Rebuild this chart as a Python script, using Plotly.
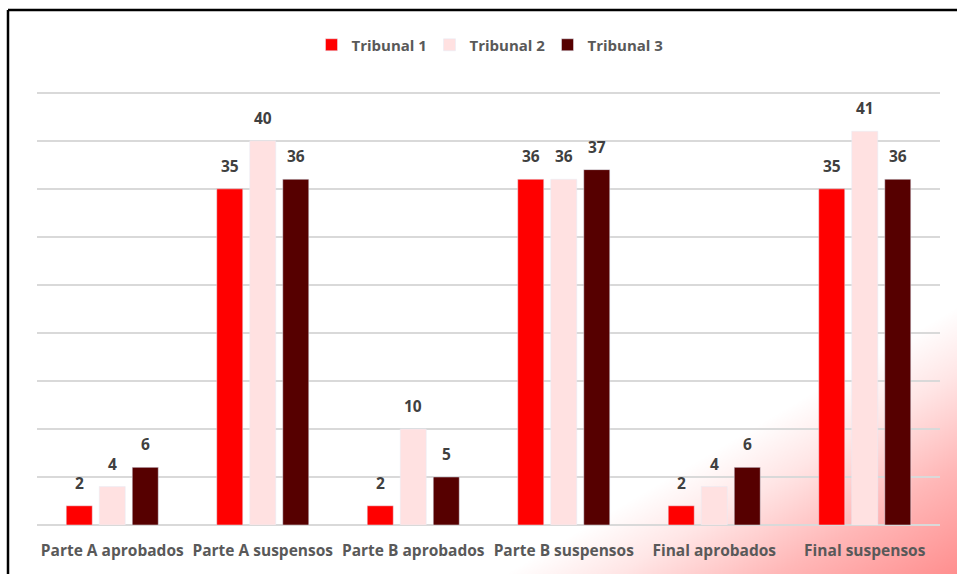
import plotly.graph_objects as go

categorias = ['Parte A aprobados', 'Parte A suspensos', 'Parte B aprobados',
              'Parte B suspensos', 'Final aprobados', 'Final suspensos']
tribunal_1 = [2, 35, 2, 36, 2, 35]
tribunal_2 = [4, 40, 10, 36, 4, 41]
tribunal_3 = [6, 36, 5, 37, 6, 36]

series = [('Tribunal 1', tribunal_1, '#FF0000'),
          ('Tribunal 2', tribunal_2, '#FFE1E1'),
          ('Tribunal 3', tribunal_3, '#560000')]

FONT = 'Open Sans'
fig = go.Figure()
for nombre, valores, color in series:
    fig.add_trace(go.Bar(x=categorias, y=valores, name=nombre, marker_color=color))

# data labels sit a bit higher than plotly's default "outside" text
for i, (nombre, valores, color) in enumerate(series):
    for cat, v in zip(categorias, valores):
        fig.add_annotation(x=cat, y=v, text=str(v), showarrow=False,
                           xshift=(i - 1) * 33, yshift=23, yanchor='middle',
                           font=dict(family=FONT, size=15.5, color='#404040', weight='bold'))

W, H = 957, 574
L, R, T, B = 37, 17, 88, 49
pw, ph = W - L - R, H - T - B

def px(x):
    return (x - L) / pw

def py(y):
    return (H - B - y) / ph

# corner gradient as an inline svg
svg = ("<svg xmlns='http://www.w3.org/2000/svg' width='957' height='574'>"
       "<defs><linearGradient id='g' gradientUnits='userSpaceOnUse' x1='840' y1='376' x2='957' y2='574'>"
       "<stop offset='0' stop-color='#FF0000' stop-opacity='0'/>"
       "<stop offset='0.25' stop-color='#FF0000' stop-opacity='0.1'/>"
       "<stop offset='0.6' stop-color='#FF0000' stop-opacity='0.28'/>"
       "<stop offset='1' stop-color='#FF0000' stop-opacity='0.44'/>"
       "</linearGradient></defs>"
       "<rect width='957' height='574' fill='url(#g)'/></svg>")
src = "data:image/svg+xml;charset=utf-8," + svg.replace('#', '%23').replace('<', '%3C').replace('>', '%3E')

fig.add_layout_image(dict(source=src, xref='paper', yref='paper', x=px(0), y=py(0),
                          sizex=W / pw, sizey=H / ph, xanchor='left', yanchor='top',
                          sizing='stretch', layer='below'))

fig.update_layout(
    width=W, height=H,
    margin=dict(l=L, r=R, t=T, b=B),
    paper_bgcolor='white', plot_bgcolor='rgba(0,0,0,0)',
    barmode='group', bargap=0.342, bargroupgap=0.212,
    font=dict(family=FONT, color='#595959'),
    legend=dict(orientation='h', x=0.5, xanchor='center', y=py(45), yanchor='middle',
                font=dict(family=FONT, size=15, color='#595959', weight='bold'),
                entrywidth=73, bgcolor='rgba(0,0,0,0)'),
    xaxis=dict(tickfont=dict(family=FONT, size=15.5, color='#595959', weight='bold'),
               showline=False, ticks='', showgrid=False, ticklabelstandoff=14),
    yaxis=dict(range=[0, 45.5], dtick=5, showticklabels=False, gridcolor='#D9D9D9',
               gridwidth=1.5, zeroline=True, zerolinecolor='#D9D9D9', zerolinewidth=1.5),
    shapes=[
        dict(type='line', xref='paper', yref='paper', x0=px(8), x1=px(W), y0=py(10), y1=py(10),
             line=dict(color='black', width=2.5)),
        dict(type='line', xref='paper', yref='paper', x0=px(8), x1=px(8), y0=py(10), y1=py(H),
             line=dict(color='black', width=2.5)),
    ],
)

fig.write_html("out.html", config={'displayModeBar': False},
               post_script="document.body.style.margin='0';document.body.style.overflow='hidden';")
